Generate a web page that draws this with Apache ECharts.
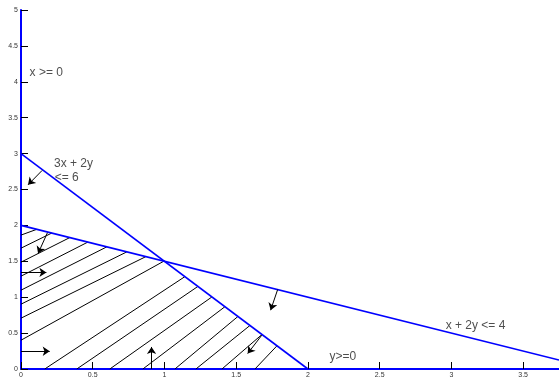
<!DOCTYPE html>
<html><head><meta charset="utf-8">
<script src="https://cdn.jsdelivr.net/npm/echarts@6/dist/echarts.min.js"></script>
<style>html,body{margin:0;padding:0;background:#fff}#c{width:559px;height:379px}</style>
</head><body><div id="c"></div><script>
// Constraint boundaries (data coordinates)
const lineA = [[0, 3], [2, 0]];          // 3x + 2y = 6
const lineB = [[0, 2], [3.75, 0.125]];   // x + 2y = 4
// Hatch strokes inside the feasible region: start point on the lower edges, end point on the upper edges
const hatchStart = [
  [0, 1.865], [0, 1.683], [0, 1.488], [0, 1.293], [0, 1.098], [0, 0.903], [0, 0.708], [0, 0.401],
  [0.1654, 0], [0.3887, 0], [0.619, 0], [0.8493, 0], [1.0726, 0], [1.2191, 0], [1.4006, 0], [1.6309, 0]
];
const hatchEnd = [
  [0.1096, 1.945], [0.2142, 1.893], [0.3398, 1.83], [0.4655, 1.767], [0.5981, 1.701], [0.7376, 1.631],
  [0.8702, 1.565], [0.9958, 1.502],
  [1.1424, 1.2864], [1.2331, 1.1503], [1.3308, 1.0038], [1.4215, 0.8677], [1.5122, 0.7317], [1.5959, 0.6061],
  [1.6797, 0.4805], [1.7844, 0.3234]
];
// Direction arrows [x1, y1, x2, y2]
const arrows = [
  [0.147, 2.765, 0.049, 2.565],
  [0.184, 1.897, 0.119, 1.609],
  [0.0, 1.345, 0.177, 1.345],
  [0.0, 0.247, 0.2, 0.247],
  [0.91, 0.0, 0.91, 0.307],
  [1.789, 1.107, 1.74, 0.819],
  [1.678, 0.47, 1.58, 0.215]
];
// Annotations [text, x, y]
const notes = [
  ['x >= 0', 0.06, 4.12],
  ['3x + 2y', 0.23, 2.86],
  ['<= 6', 0.235, 2.67],
  ['x + 2y <= 4', 2.96, 0.61],
  ['y>=0', 2.15, 0.17]
];

const chart = echarts.init(document.getElementById('c'));
const axisCommon = {
  type: 'value',
  axisLine: { show: true, onZero: false, lineStyle: { color: '#0000ff', width: 2 } },
  axisTick: { show: true, inside: true, length: 7, lineStyle: { color: '#000', width: 1 } },
  axisLabel: { fontSize: 7, color: '#333', fontFamily: 'Liberation Sans', margin: 3 },
  splitLine: { show: false }
};
chart.setOption({
  animation: false,
  grid: { left: 21, right: 0, top: 10, bottom: 10 },
  xAxis: Object.assign({}, axisCommon, { min: 0, max: 3.75, interval: 0.5, axisLabel: Object.assign({}, axisCommon.axisLabel, { showMaxLabel: false, showMinLabel: true }) }),
  yAxis: Object.assign({}, axisCommon, { min: 0, max: 5, interval: 0.5, axisLabel: Object.assign({}, axisCommon.axisLabel, { showMinLabel: true }) }),
  series: [
    {
      type: 'lines', coordinateSystem: 'cartesian2d', z: 2,
      lineStyle: { color: '#000', width: 1, opacity: 1 },
      data: hatchStart.map((p, i) => ({ coords: [p, hatchEnd[i]] }))
    },
    {
      type: 'lines', coordinateSystem: 'cartesian2d', z: 4,
      lineStyle: { color: '#0000ff', width: 1.6, opacity: 1 },
      data: [{ coords: lineA }, { coords: lineB }]
    },
    {
      type: 'lines', coordinateSystem: 'cartesian2d', z: 5,
      symbol: ['none', 'arrow'], symbolSize: [5, 7],
      lineStyle: { color: '#000', width: 1, opacity: 1 },
      itemStyle: { color: '#000' },
      data: arrows.map(a => ({ coords: [[a[0], a[1]], [a[2], a[3]]] }))
    },
    {
      type: 'scatter', symbolSize: 0, z: 6,
      label: { show: true, position: 'right', distance: 0, formatter: p => p.data[2], fontSize: 12, color: '#222', fontFamily: 'Liberation Sans' },
      data: notes.map(n => [n[1], n[2], n[0]])
    }
  ]
});
</script></body></html>
